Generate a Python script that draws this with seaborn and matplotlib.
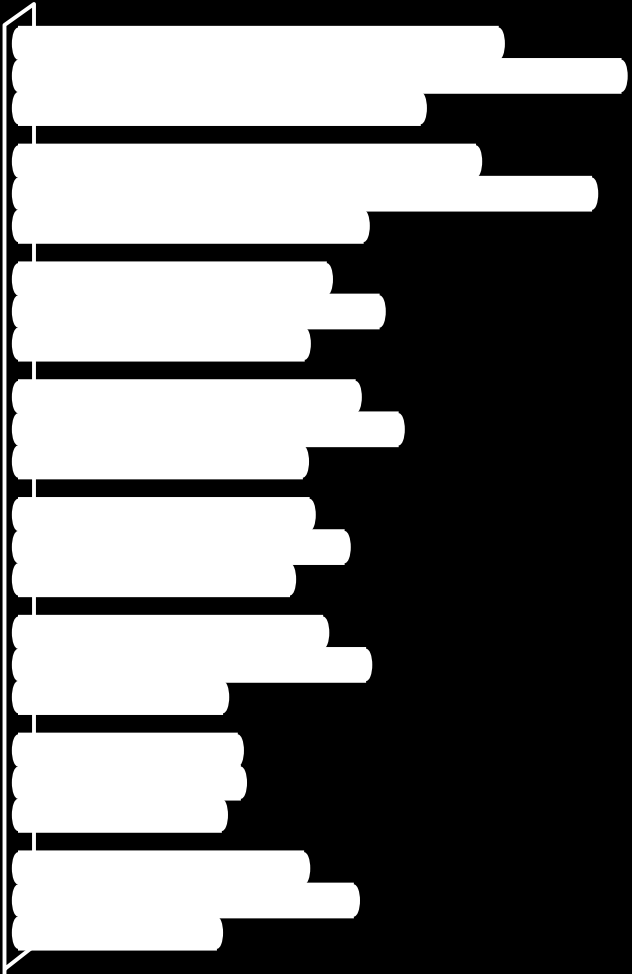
import numpy as np
import pandas as pd
import matplotlib
matplotlib.use("Agg")
import matplotlib.pyplot as plt
import matplotlib.transforms as mtransforms
from matplotlib.patches import Ellipse, Rectangle
import seaborn as sns

groups = ["G1", "G2", "G3", "G4", "G5", "G6", "G7", "G8"]
series = ["S1", "S2", "S3"]
s1_values = [79.3, 75.6, 51.3, 56.0, 48.5, 50.7, 36.8, 47.6]
s2_values = [99.3, 94.5, 59.9, 63.0, 54.2, 57.7, 37.3, 55.7]
s3_values = [66.6, 57.3, 47.7, 47.4, 45.3, 34.4, 34.2, 33.4]

df = pd.DataFrame({
    "group": groups * 3,
    "series": np.repeat(series, len(groups)),
    "value": s1_values + s2_values + s3_values,
})

W, H = 632, 974
fig = plt.figure(figsize=(W / 100, H / 100), dpi=100, facecolor="black")
ax = fig.add_axes([18 / W, 14.6 / H, 614 / W, 942.4 / H])
ax.patch.set_alpha(0)

sns.barplot(data=df, y="group", x="value", hue="series", orient="h",
            palette=["white"] * 3, width=0.82, gap=0, linewidth=0,
            legend=False, ax=ax)
ax.set_xlim(0, 100)
ax.set_ylim(7.5, -0.5)

# rounded cylinder-like ends built from each bar's own geometry
r = 1.0
pad = 0.015  # slight overlap so the bars of one group merge into a block
bars = [p for p in ax.patches if isinstance(p, Rectangle)]
for bar in bars:
    w = bar.get_width()
    y0, h = bar.get_y(), bar.get_height()
    yc = y0 + h / 2
    bar.set_width(w - r)
    bar.set_y(y0 - pad)
    bar.set_height(h + 2 * pad)
    bar.set_snap(False)
    ax.add_patch(Ellipse((w - r, yc), 2 * r, h, facecolor="white",
                         edgecolor="none"))
    ax.add_patch(Ellipse((0, yc), 2 * r, h, facecolor="white",
                         edgecolor="none", clip_on=False))
ax.set_axis_off()

# 3d-ish wall edge, kept under the bars (pixel coords, top-left origin)
pix = mtransforms.Affine2D().scale(1 / W, -1 / H).translate(0, 1) + fig.transFigure
wall_x = [4.5, 4.5, 34, 34, 6]
wall_y = [974, 25, 4, 946, 968]
ax.plot(wall_x, wall_y, color="white", lw=2.8, transform=pix,
        clip_on=False, zorder=0.5)

fig.savefig("out.png", dpi=100, facecolor="black")
